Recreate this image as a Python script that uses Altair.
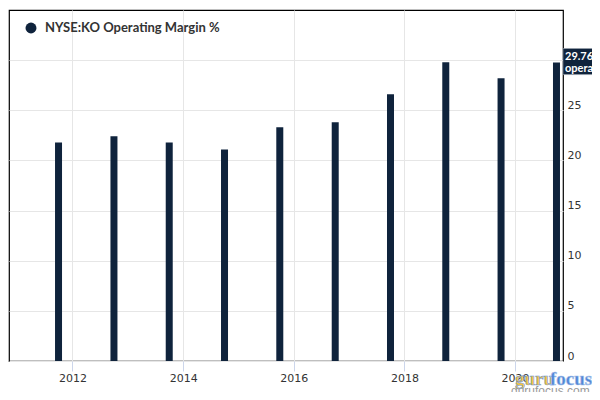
import altair as alt
import pandas as pd

# ---- data ----
periods = ["2011-10-01", "2012-10-01", "2013-10-01", "2014-10-01", "2015-10-01",
           "2016-10-01", "2017-10-01", "2018-10-01", "2019-10-01", "2020-10-01"]
margins = [21.8, 22.4, 21.8, 21.1, 23.3, 23.8, 26.6, 29.8, 28.2, 29.76]
x_tick_years = [2012, 2014, 2016, 2018, 2020]
y_ticks = [0, 5, 10, 15, 20, 25, 30]
series_name = "NYSE:KO Operating Margin %"
last_label = "operating margin"

NAVY = "#0f233c"
df = pd.DataFrame({"date": periods, "value": margins})
last = df.tail(1)

x_scale = alt.Scale(domain=[alt.DateTime(year=2010, month=11, date=8),
                            alt.DateTime(year=2020, month=11, date=13)],
                    nice=False, padding=0)
y_scale = alt.Scale(domain=[0, 35], nice=False, zero=True, padding=0)

bars = alt.Chart(df).mark_bar(width=7, color=NAVY).encode(
    x=alt.X("date:T", scale=x_scale, title=None,
            axis=alt.Axis(values=[alt.DateTime(year=y, month=1, date=1) for y in x_tick_years],
                          format="%Y", grid=True, gridColor="#e6e6e6", domain=False,
                          ticks=True, tickColor="#ccd6eb", tickSize=10, labelPadding=1,
                          labelFontSize=11, labelColor="#333333", labelFont="DejaVu Sans")),
    y=alt.Y("value:Q", scale=y_scale, title=None,
            axis=alt.Axis(orient="right", values=y_ticks, grid=True, gridColor="#e6e6e6",
                          domain=False, ticks=False, tickSize=0, labelPadding=4,
                          labelBaseline="alphabetic", labelOffset=-2,
                          labelFontSize=11, labelColor="#333333", labelFont="DejaVu Sans")),
)

legend_dot = alt.Chart(pd.DataFrame({"s": [series_name]})).mark_point(
    shape="circle", filled=True, size=120, color=NAVY, opacity=1).encode(
    x=alt.value(22), y=alt.value(18))
legend_text = alt.Chart(pd.DataFrame({"s": [series_name]})).mark_text(
    align="left", baseline="middle", font="Lato", fontWeight="bold", fontSize=13,
    color="#333333").encode(x=alt.value(36), y=alt.value(18), text="s:N")

box = alt.Chart(last).transform_calculate(
    top="datum.value + 1.4", bot="datum.value - 1.2").mark_rect(
    color=NAVY, stroke="#9aa3ad", strokeWidth=0.6).encode(
    y=alt.Y("top:Q", title=None), y2="bot:Q",
    x=alt.value(554), x2=alt.value(600))
box_val = alt.Chart(last).mark_text(
    align="left", baseline="middle", font="Lato", fontWeight="bold", fontSize=11,
    color="white", dy=-6).encode(
    y=alt.Y("value:Q", title=None), x=alt.value(556),
    text=alt.Text("value:Q", format=".2f"))
box_lab = alt.Chart(last).transform_calculate(lab=f"'{last_label}'").mark_text(
    align="left", baseline="middle", font="Lato", fontWeight="bold", fontSize=11,
    color="white", dy=6).encode(
    y=alt.Y("value:Q", title=None), x=alt.value(556), text="lab:N")

wm1 = alt.Chart(pd.DataFrame({"t": ["guru"]})).mark_text(
    align="left", baseline="alphabetic", font="Liberation Sans Narrow", fontWeight="bold",
    fontSize=19, color="#f3c443", stroke="#6f97d3", strokeWidth=0.6).encode(
    x=alt.value(506), y=alt.value(375), text="t:N")
wm2 = alt.Chart(pd.DataFrame({"t": ["focus"]})).mark_text(
    align="left", baseline="alphabetic", font="Liberation Sans Narrow", fontWeight="bold",
    fontSize=19, color="#4f86d6", stroke="#a9c3ea", strokeWidth=0.6).encode(
    x=alt.value(541), y=alt.value(375), text="t:N")
wm3 = alt.Chart(pd.DataFrame({"t": ["gurufocus.com"]})).mark_text(
    align="left", baseline="alphabetic", font="Liberation Sans", fontSize=12,
    color="#9a9a9a").encode(x=alt.value(502), y=alt.value(385), text="t:N")

chart = alt.layer(bars, legend_dot, legend_text, box, box_val, box_lab, wm1, wm2, wm3).properties(
    width=554, height=351,
    autosize=alt.AutoSizeParams(type="none"),
    padding={"left": 1, "top": 2, "right": 29, "bottom": 31},
).configure_view(stroke="#000000", strokeWidth=1.2)

chart.save("out.html", embed_options={"renderer": "svg", "actions": False})
